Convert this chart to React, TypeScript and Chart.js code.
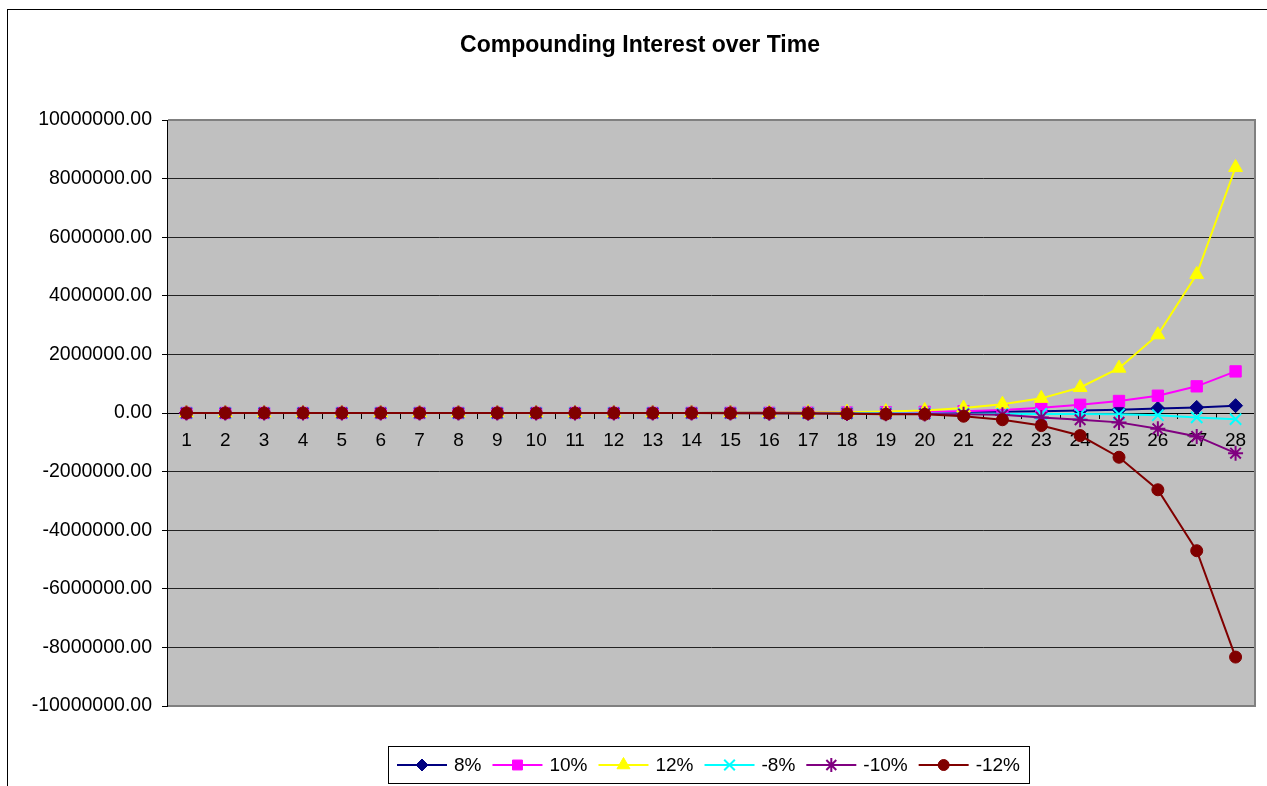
import React, { useEffect, useRef } from 'react';
import { Chart, registerables } from 'chart.js';
import { drawPoint } from 'chart.js/helpers';

Chart.register(...registerables);

const TITLE = 'Compounding Interest over Time';

const YEARS = ['1', '2', '3', '4', '5', '6', '7', '8', '9', '10', '11', '12', '13', '14', '15', '16', '17', '18', '19', '20', '21', '22', '23', '24', '25', '26', '27', '28'];

const SERIES_LABELS = ['8%', '10%', '12%', '-8%', '-10%', '-12%'];

const RATE_8 = [60, 85, 115, 155, 215, 290, 400, 550, 750, 1030, 1400, 1900, 2600, 3600, 4900, 6700, 9200, 12600, 17200, 23500, 32000, 44000, 60000, 82000, 112000, 155000, 190000, 250000];
const RATE_10 = [7, 11, 17, 27, 43, 67, 105, 165, 260, 410, 640, 1000, 1600, 2500, 3900, 6200, 9700, 15200, 23900, 37500, 59000, 100000, 180000, 280000, 410000, 590000, 910000, 1420000];
const RATE_12 = [2, 3, 5, 9, 16, 29, 51, 90, 160, 283, 500, 890, 1570, 2800, 4900, 8700, 15500, 27400, 48500, 86000, 170000, 300000, 500000, 870000, 1530000, 2670000, 4730000, 8380000];
const RATE_NEG_8 = [-60, -85, -115, -150, -200, -270, -360, -480, -650, -870, -1170, -1570, -2100, -2800, -3800, -5100, -6800, -9200, -12300, -16500, -22000, -26000, -30000, -35000, -45000, -75000, -150000, -210000];
const RATE_NEG_10 = [-7, -11, -17, -27, -43, -67, -105, -165, -260, -410, -640, -1000, -1600, -2500, -3900, -6200, -9700, -15000, -24000, -30000, -40000, -60000, -150000, -230000, -320000, -540000, -800000, -1370000];
const RATE_NEG_12 = [-2, -3, -5, -9, -16, -29, -51, -90, -160, -283, -500, -890, -1570, -2800, -4900, -8700, -15500, -27400, -40000, -45000, -110000, -230000, -430000, -770000, -1510000, -2620000, -4700000, -8330000];

const SERIES_VALUES = [RATE_8, RATE_10, RATE_12, RATE_NEG_8, RATE_NEG_10, RATE_NEG_12];

const Y_MIN = -10000000;
const Y_MAX = 10000000;
const Y_STEP = 2000000;

// styles
const COLORS = ['#000080', '#FF00FF', '#FFFF00', '#00FFFF', '#800080', '#800000'];
const POINT_STYLES = ['rectRot', 'rect', 'triangle', 'crossRot', 'star', 'circle'];
const POINT_RADII = [7, 8, 8, 8, 7.5, 6];
const LEGEND_RADII = [6, 7, 7.5, 7.5, 7, 5.5];
const POINT_BORDER = [1, 1, 1, 2, 2, 1];

const FONT_FAMILY = '"Liberation Sans", Arial, Helvetica, sans-serif';

const titlePlugin = {
  id: 'excelTitle',
  afterDraw(chart: any) {
    const ctx = chart.ctx;
    ctx.save();
    ctx.font = `bold 23px ${FONT_FAMILY}`;
    ctx.fillStyle = '#000';
    ctx.textAlign = 'center';
    ctx.textBaseline = 'middle';
    ctx.fillText(TITLE, chart.width / 2, 36);
    ctx.restore();
  },
};

const plotBgPlugin = {
  id: 'plotBg',
  beforeDraw(chart: any) {
    const { ctx, chartArea: a } = chart;
    ctx.save();
    ctx.fillStyle = '#C0C0C0';
    ctx.fillRect(a.left, a.top, a.right - a.left, a.bottom - a.top);
    ctx.restore();
  },
  beforeDatasetsDraw(chart: any) {
    const { ctx, chartArea: a } = chart;
    ctx.save();
    ctx.strokeStyle = '#808080';
    ctx.lineWidth = 2;
    ctx.beginPath();
    ctx.moveTo(a.left + 1, a.top);
    ctx.lineTo(a.right, a.top);
    ctx.lineTo(a.right, a.bottom);
    ctx.lineTo(a.left + 1, a.bottom);
    ctx.stroke();
    ctx.restore();
  },
};

const legendPlugin = {
  id: 'excelLegend',
  afterDraw(chart: any) {
    const ctx = chart.ctx;
    const a = chart.chartArea;
    ctx.save();
    ctx.font = `19px ${FONT_FAMILY}`;
    const LINE = 50;
    const GAP_T = 7;
    const GAP_I = 11;
    const PAD = 9;
    const items = chart.data.datasets.map((ds: any, i: number) => ({
      label: ds.label as string,
      w: ctx.measureText(ds.label).width,
      i,
    }));
    const total =
      PAD * 2 +
      items.reduce((s: number, it: any) => s + LINE + GAP_T + it.w, 0) +
      GAP_I * (items.length - 1);
    const cx = (a.left + a.right) / 2 - 2;
    let x = Math.round(cx - total / 2);
    const top = Math.round(a.bottom + 40);
    const h = 37;
    ctx.strokeStyle = '#000';
    ctx.lineWidth = 1;
    ctx.strokeRect(x + 0.5, top + 0.5, Math.round(total), h);
    const cy = top + h / 2 + 0.5;
    x += PAD;
    items.forEach((it: any) => {
      const i = it.i;
      ctx.strokeStyle = COLORS[i];
      ctx.lineWidth = 2;
      ctx.beginPath();
      ctx.moveTo(x, cy);
      ctx.lineTo(x + LINE, cy);
      ctx.stroke();
      ctx.fillStyle = COLORS[i];
      ctx.strokeStyle = COLORS[i];
      ctx.lineWidth = POINT_BORDER[i];
      drawPoint(
        ctx,
        { pointStyle: POINT_STYLES[i], rotation: 0, radius: LEGEND_RADII[i], borderWidth: POINT_BORDER[i] } as any,
        x + LINE / 2,
        cy
      );
      ctx.fillStyle = '#000';
      ctx.textAlign = 'left';
      ctx.textBaseline = 'middle';
      ctx.fillText(it.label, x + LINE + GAP_T, cy + 1);
      x += LINE + GAP_T + it.w + GAP_I;
    });
    ctx.restore();
  },
};

export default function App() {
  const canvasRef = useRef<HTMLCanvasElement | null>(null);

  useEffect(() => {
    if (!canvasRef.current) return;
    Chart.defaults.font.family = FONT_FAMILY;
    const datasets = SERIES_LABELS.map((label, i) => ({
      label,
      data: SERIES_VALUES[i],
      borderColor: COLORS[i],
      backgroundColor: COLORS[i],
      pointBackgroundColor: COLORS[i],
      pointBorderColor: COLORS[i],
      pointStyle: POINT_STYLES[i] as any,
      pointRadius: POINT_RADII[i],
      pointBorderWidth: POINT_BORDER[i],
      borderWidth: 2,
      tension: 0,
      fill: false,
      order: SERIES_LABELS.length - i,
    }));
    const chart = new Chart(canvasRef.current, {
      type: 'line',
      data: { labels: YEARS, datasets },
      options: {
        animation: false,
        responsive: false,
        devicePixelRatio: 1,
        events: [],
        layout: { padding: { left: 0, right: 17, top: 110, bottom: 104 } },
        plugins: {
          legend: { display: false },
          title: { display: false },
          tooltip: { enabled: false },
        },
        scales: {
          x: {
            type: 'category',
            position: { y: 0 } as any,
            offset: true,
            grid: {
              drawOnChartArea: false,
              drawTicks: true,
              tickLength: 5,
              offset: true,
              color: '#000',
              tickColor: '#000',
            },
            border: { display: true, color: '#000', width: 1 },
            ticks: {
              autoSkip: false,
              maxRotation: 0,
              minRotation: 0,
              padding: 11,
              color: '#000',
              font: { size: 19, family: FONT_FAMILY },
            },
          },
          y: {
            type: 'linear',
            min: Y_MIN,
            max: Y_MAX,
            afterFit: (scale: any) => {
              scale.width = 159;
            },
            grid: {
              color: '#222',
              tickColor: '#000',
              tickLength: 5,
              drawTicks: true,
            },
            border: { display: true, color: '#000', width: 1 },
            ticks: {
              stepSize: Y_STEP,
              padding: 10,
              color: '#000',
              font: { size: 19.5, family: FONT_FAMILY },
              callback: (v: any) => Number(v).toFixed(2),
            },
          },
        },
      },
      plugins: [plotBgPlugin, titlePlugin, legendPlugin],
    });
    return () => chart.destroy();
  }, []);

  return (
    <div
      style={{
        position: 'fixed',
        left: 7,
        top: 9,
        width: 1264,
        height: 800,
        border: '1px solid #000',
        background: '#fff',
      }}
    >
      <canvas ref={canvasRef} width={1264} height={800} style={{ display: 'block' }} />
    </div>
  );
}
